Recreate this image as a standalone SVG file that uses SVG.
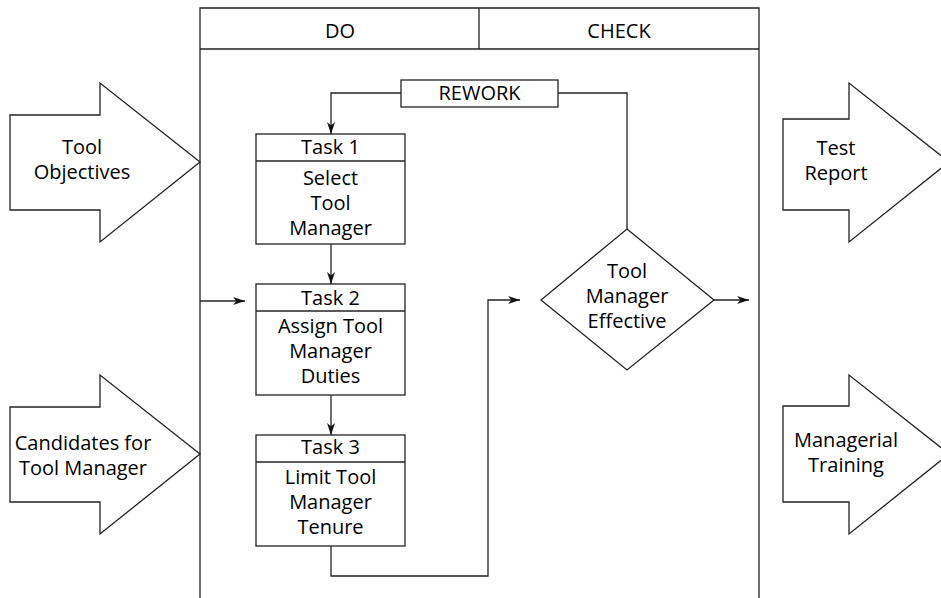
<svg xmlns="http://www.w3.org/2000/svg" width="941" height="598" viewBox="0 0 941 598">
<defs>
<marker id="ah" markerWidth="13" markerHeight="9" refX="12" refY="4.5" orient="auto" markerUnits="userSpaceOnUse">
<path d="M0,0.5 L12,4.5 L0,8.5 L3.5,4.5 Z" fill="#111"/>
</marker>
<style>
.s{fill:#fff;stroke:#222;stroke-width:1.3}
.l{fill:none;stroke:#222;stroke-width:1.3}
text{font-family:"Open Sans","Noto Sans","Liberation Sans",sans-serif;font-size:20px;fill:#000;text-anchor:middle}
</style>
</defs>
<rect width="941" height="598" fill="#fff"/>
<g id="frame">
<path class="l" d="M200,598 V8 H759 V598 M200,49 H759 M479,8 V49"/>
<text x="340" y="38">DO</text>
<text x="619" y="38">CHECK</text>
</g>
<g id="in-objectives">
<path class="s" d="M10,115 H100 V83 L200,162 L100,242 V210 H10 Z"/>
<text x="82" y="154">Tool</text>
<text x="82" y="179">Objectives</text>
</g>
<g id="in-candidates">
<path class="s" d="M10,407 H100 V375 L200,454 L100,534 V502 H10 Z"/>
<text x="83" y="450">Candidates for</text>
<text x="83" y="475">Tool Manager</text>
</g>
<g id="out-report">
<path class="s" d="M783,119 H849 V83 L949,162 L849,242 V210 H783 Z"/>
<text x="836" y="155">Test</text>
<text x="836" y="180">Report</text>
</g>
<g id="out-training">
<path class="s" d="M783,406 H849 V375 L949,454 L849,534 V502 H783 Z"/>
<text x="846" y="447">Managerial</text>
<text x="846" y="472">Training</text>
</g>
<g id="rework">
<rect class="s" x="401" y="80" width="157" height="27"/>
<text x="479.5" y="100">REWORK</text>
</g>
<g id="task1">
<rect class="s" x="256" y="134" width="149" height="110"/>
<path class="l" d="M256,161 H405"/>
<text x="330.5" y="154">Task 1</text>
<text x="330.5" y="185">Select</text>
<text x="330.5" y="210">Tool</text>
<text x="330.5" y="235">Manager</text>
</g>
<g id="task2">
<rect class="s" x="256" y="284" width="149" height="111"/>
<path class="l" d="M256,311 H405"/>
<text x="330.5" y="305">Task 2</text>
<text x="330.5" y="333">Assign Tool</text>
<text x="330.5" y="358">Manager</text>
<text x="330.5" y="383">Duties</text>
</g>
<g id="task3">
<rect class="s" x="256" y="435" width="149" height="111"/>
<path class="l" d="M256,462 H405"/>
<text x="330.5" y="454">Task 3</text>
<text x="330.5" y="484">Limit Tool</text>
<text x="330.5" y="509">Manager</text>
<text x="330.5" y="534">Tenure</text>
</g>
<g id="decision">
<path class="s" d="M627,229 L714,300 L627,370 L541,300 Z"/>
<text x="627" y="278">Tool</text>
<text x="627" y="303">Manager</text>
<text x="627" y="328">Effective</text>
</g>
<g id="connectors">
<path class="l" d="M401,93 H331 V134" marker-end="url(#ah)"/>
<path class="l" d="M558,93 H627 V229"/>
<path class="l" d="M331,244 V284" marker-end="url(#ah)"/>
<path class="l" d="M331,395 V435" marker-end="url(#ah)"/>
<path class="l" d="M200,301 H245" marker-end="url(#ah)"/>
<path class="l" d="M331,546 V576 H488 V300 H520" marker-end="url(#ah)"/>
<path class="l" d="M714,300 H749" marker-end="url(#ah)"/>
</g>
</svg>
